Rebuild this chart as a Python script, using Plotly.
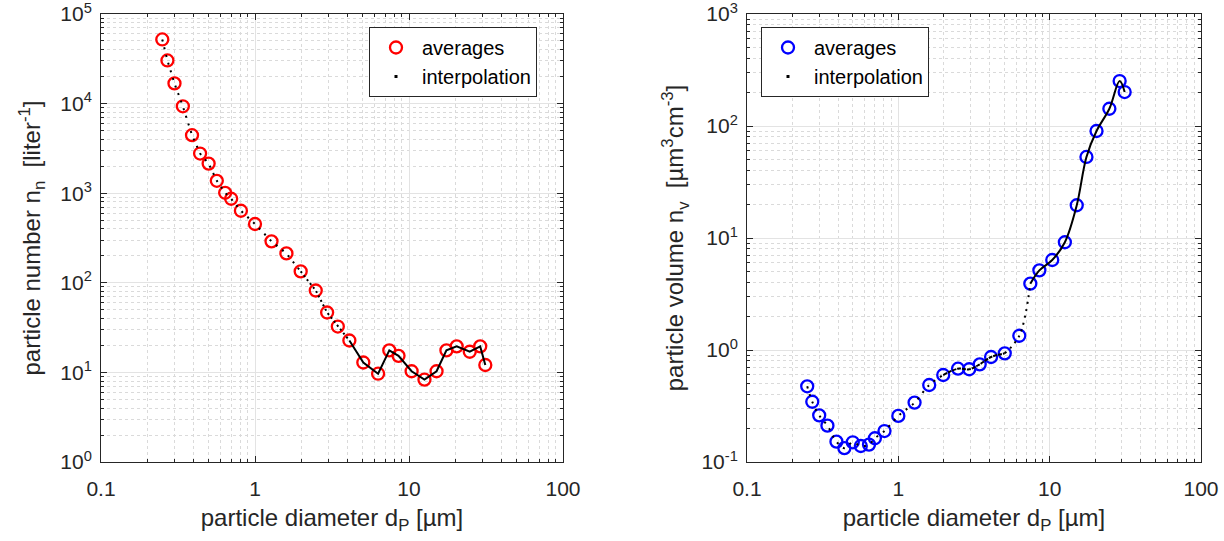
import plotly.graph_objects as go

# ---------------- data ----------------
diameter = [0.25, 0.27, 0.30, 0.34, 0.39, 0.44, 0.50, 0.565, 0.64, 0.70, 0.81,
            1.0, 1.28, 1.6, 1.98, 2.48, 2.94, 3.45, 4.1, 5.05, 6.3, 7.45, 8.55,
            10.4, 12.6, 15.1, 17.5, 20.4, 24.8, 29.0, 31.3]
number_avg = [52000, 30300, 16800, 9330, 4440, 2770, 2140, 1375, 1010, 867, 637,
              453, 290, 213, 134, 82, 46.6, 32.5, 22.7, 12.9, 9.67, 17.6, 15.3,
              10.3, 8.3, 10.3, 17.6, 19.5, 17.0, 19.5, 12.1]
volume_avg = [0.474, 0.345, 0.261, 0.211, 0.152, 0.133, 0.150, 0.139, 0.143, 0.163, 0.189,
              0.258, 0.339, 0.487, 0.598, 0.681, 0.673, 0.745, 0.866, 0.934, 1.34, 3.91, 5.14,
              6.36, 9.16, 19.6, 52.9, 90.2, 142.6, 252, 201]

x_tickvals = [0.1, 1, 10, 100]
x_ticktext = ["0.1", "1", "10", "100"]
yl_tickvals = [1, 10, 100, 1000, 10000, 100000]
yl_ticktext = ["10<sup>0</sup>", "10<sup>1</sup>", "10<sup>2</sup>", "10<sup>3</sup>",
               "10<sup>4</sup>", "10<sup>5</sup>"]
yr_tickvals = [0.1, 1, 10, 100, 1000]
yr_ticktext = ["10<sup>-1</sup>", "10<sup>0</sup>", "10<sup>1</sup>", "10<sup>2</sup>",
               "10<sup>3</sup>"]

# ---------------- style ----------------
FONT = "Liberation Sans, Arial, Helvetica, sans-serif"
TXT = "#262626"
TICK_SIZE = 21
TITLE_SIZE = 24
LEG_SIZE = 20

# segments of the interpolation curve: (start index, end index inclusive, dash)
left_segments = [(0, 14, "2px,6px"), (14, 18, "2px,3px"), (18, 30, "solid")]
right_segments = [(0, 14, "2px,6px"), (14, 19, "4px,1px"), (19, 21, "2px,5px"),
                  (21, 30, "solid")]

fig = go.Figure()

def add_panel(xa, ya, yvals, color, segments, shape, legend):
    fig.add_trace(go.Scatter(
        x=diameter, y=yvals, mode="markers", name="averages",
        marker=dict(symbol="circle-open", size=12, color=color,
                    line=dict(width=2.3, color=color)),
        xaxis=xa, yaxis=ya, legend=legend))
    for s, e, dash in segments:
        fig.add_trace(go.Scatter(
            x=diameter[s:e + 1], y=yvals[s:e + 1], mode="lines",
            line=dict(color="black", width=2, dash=dash, shape=shape, smoothing=1.0),
            showlegend=False, hoverinfo="skip", xaxis=xa, yaxis=ya))
    fig.add_trace(go.Scatter(
        x=[None], y=[None], mode="markers", name="interpolation",
        marker=dict(symbol="square", size=3, color="black"),
        xaxis=xa, yaxis=ya, legend=legend))

add_panel("x", "y", number_avg, "#ff0000", left_segments, "linear", "legend")
add_panel("x2", "y2", volume_avg, "#0000ff", right_segments, "spline", "legend2")

def axis_common():
    return dict(
        type="log", showline=True, linecolor=TXT, linewidth=1, mirror="ticks",
        ticks="inside", ticklen=6, tickwidth=1, tickcolor=TXT,
        showgrid=True, gridcolor="#e3e3e3", gridwidth=1, zeroline=False,
        tickfont=dict(family=FONT, size=TICK_SIZE, color=TXT),
        ticklabeloverflow="allow",
        minor=dict(ticks="inside", ticklen=3, tickcolor=TXT, dtick="D1",
                   showgrid=True, gridcolor="#dadada", griddash="dot", gridwidth=1),
        automargin=False,
    )

W, H = 1224, 541
TOP, BOTTOM = 14, 79
PLOT_H = H - TOP - BOTTOM
L_dom = [101 / W, 563 / W]
R_dom = [747 / W, 1201 / W]

xt = "particle diameter d<sub>P</sub> [µm]"

fig.update_layout(
    width=W, height=H,
    margin=dict(l=0, r=0, t=TOP, b=BOTTOM),
    paper_bgcolor="white", plot_bgcolor="white",
    font=dict(family=FONT, color=TXT),
    xaxis=dict(axis_common(), domain=L_dom, anchor="y", range=[-1, 2],
               tickmode="array", tickvals=x_tickvals, ticktext=x_ticktext,
               ticklabelstandoff=8,
               title=dict(text=xt, font=dict(family=FONT, size=TITLE_SIZE, color=TXT),
                          standoff=9)),
    yaxis=dict(axis_common(), domain=[0, 1], anchor="x", range=[0, 5],
               tickmode="array", tickvals=yl_tickvals, ticktext=yl_ticktext,
               ticklabelstandoff=4,
               title=dict(text="particle number n<sub>n</sub>  [liter<sup>-1</sup>]",
                          font=dict(family=FONT, size=TITLE_SIZE, color=TXT),
                          standoff=12)),
    xaxis2=dict(axis_common(), domain=R_dom, anchor="y2", range=[-1, 2],
                tickmode="array", tickvals=x_tickvals, ticktext=x_ticktext,
                ticklabelstandoff=8,
                title=dict(text=xt, font=dict(family=FONT, size=TITLE_SIZE, color=TXT),
                           standoff=9)),
    yaxis2=dict(axis_common(), domain=[0, 1], anchor="x2", range=[-1, 3],
                tickmode="array", tickvals=yr_tickvals, ticktext=yr_ticktext,
                ticklabelstandoff=4,
                title=dict(text="particle volume n<sub>v</sub>  [µm<sup>3</sup>cm<sup>-3</sup>]",
                           font=dict(family=FONT, size=TITLE_SIZE, color=TXT),
                           standoff=10)),
    legend=dict(x=369 / W, y=1 - (27 - TOP) / PLOT_H, xanchor="left", yanchor="top",
                bgcolor="white", bordercolor="#262626", borderwidth=1,
                font=dict(family=FONT, size=LEG_SIZE, color="black"),
                tracegroupgap=0, itemwidth=42),
    legend2=dict(x=761 / W, y=1 - (27 - TOP) / PLOT_H, xanchor="left", yanchor="top",
                 bgcolor="white", bordercolor="#262626", borderwidth=1,
                 font=dict(family=FONT, size=LEG_SIZE, color="black"),
                 tracegroupgap=0, itemwidth=42),
    showlegend=True,
)

fig.write_html("out.html")
